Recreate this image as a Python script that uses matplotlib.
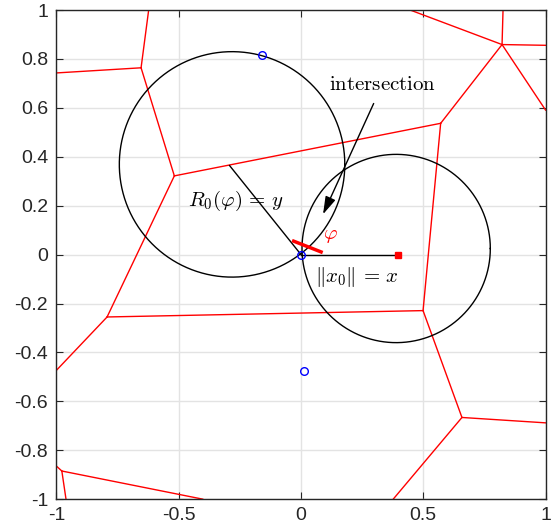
import numpy as np
import matplotlib
matplotlib.use('Agg')
import matplotlib.pyplot as plt
from matplotlib.patches import ArrowStyle

plt.rcParams['mathtext.fontset'] = 'cm'
plt.rcParams['font.family'] = ['Liberation Sans', 'DejaVu Sans']

# voronoi vertices
vx = [-0.654, -0.518, 0.571, 0.822, 0.499, 0.658, -0.793, -0.978]
vy = [0.764, 0.322, 0.537, 0.859, -0.229, -0.666, -0.255, -0.885]
# edges between vertices
edges = [(0, 1), (1, 2), (1, 6), (2, 3), (2, 4), (4, 6), (4, 5)]
# edges running out to the border: (vertex, end x, end y)
open_edges = [(0, -1.0, 0.743), (0, -0.623, 1.0),
              (3, 0.826, 1.0), (3, 1.0, 0.856), (3, 1.0, 0.591), (3, 0.447, 1.0),
              (5, 1.0, -0.688), (5, 0.377, -1.0),
              (6, -1.0, -0.473),
              (7, -1.0, -0.865), (7, -0.961, -1.0), (7, -0.402, -1.0)]

# points
pts_x = [0.0, -0.158, 0.011]
pts_y = [0.0, 0.818, -0.477]
x0 = [0.395, 0.0]
r0_end = [-0.292, 0.364]
phi_seg_x = [-0.030, 0.082]
phi_seg_y = [0.055, 0.011]

# circles: center x, center y, radius
circles = [(-0.282, 0.369, 0.461), (0.389, 0.025, 0.385)]

fig = plt.figure(figsize=(5.59, 5.31), dpi=100)
ax = fig.add_axes([0.101, 0.060, 0.875, 0.921])

for a, b in edges:
    ax.plot([vx[a], vx[b]], [vy[a], vy[b]], color='red', lw=1.0)
for a, ex, ey in open_edges:
    ax.plot([vx[a], ex], [vy[a], ey], color='red', lw=1.0)

t = np.linspace(0, 2 * np.pi, 400)
for cx, cy, r in circles:
    ax.plot(cx + r * np.cos(t), cy + r * np.sin(t), color='black', lw=1.0)

ax.plot([0, r0_end[0]], [0, r0_end[1]], color='black', lw=1.0)
ax.plot([0, x0[0]], [0, x0[1]], color='black', lw=1.0)
ax.plot(x0[0], x0[1], 's', color='red', ms=4.5)
ax.plot(phi_seg_x, phi_seg_y, color='red', lw=2.5)
ax.plot(pts_x, pts_y, 'o', mfc='none', mec='blue', ms=5.5, mew=1.0)

ax.text(-0.264, 0.218, r'$R_0(\varphi)\,=\,y$', fontsize=15, ha='center', va='center')
ax.text(0.228, -0.091, r'$\|x_0\|\,=\,x$', fontsize=15, ha='center', va='center')
ax.text(0.12, 0.079, r'$\varphi$', fontsize=15, color='red', ha='center', va='center')
ax.text(0.331, 0.697, r'$\mathrm{intersection}$', fontsize=15, ha='center', va='center')
ax.annotate('', xy=(0.090, 0.165), xytext=(0.297, 0.618),
            arrowprops=dict(arrowstyle=ArrowStyle('-|>', head_length=0.6, head_width=0.18),
                            color='black', lw=1.0,
                            mutation_scale=18, shrinkA=0, shrinkB=0))

ax.set_xlim(-1, 1)
ax.set_ylim(-1, 1)
ax.set_xticks([-1, -0.5, 0, 0.5, 1])
ax.set_xticklabels(['-1', '-0.5', '0', '0.5', '1'])
ax.set_yticks(np.arange(-1, 1.01, 0.2))
ax.set_yticklabels(['-1', '-0.8', '-0.6', '-0.4', '-0.2', '0', '0.2', '0.4', '0.6', '0.8', '1'])
ax.grid(True, color='#e3e3e3', lw=1.0)
ax.set_axisbelow(True)
ax.tick_params(direction='in', length=5, top=True, right=True, labelsize=14,
               color='#262626', labelcolor='#262626', pad=6)
for s in ax.spines.values():
    s.set_color('#262626')
    s.set_linewidth(1.0)

fig.savefig('out.png', dpi=100)
